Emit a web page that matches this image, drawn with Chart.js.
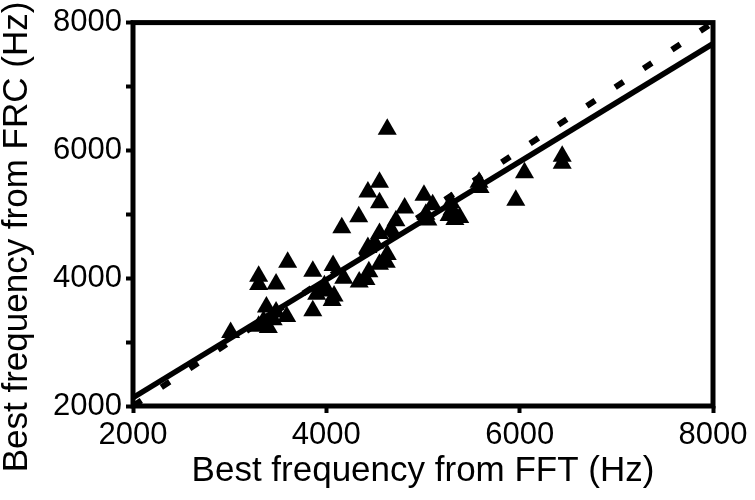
<!DOCTYPE html>
<html>
<head>
<meta charset="utf-8">
<script src="https://cdn.jsdelivr.net/npm/chart.js@4"></script>
<style>
  body { margin: 0; background: #fff; }
  #wrap { width: 755px; height: 500px; }
</style>
</head>
<body>
<div id="wrap"><canvas id="bfChart"></canvas></div>
<script>
// best frequency estimates, one entry per recording site
const fftHz = [
  3010, 3300, 3300, 3480, 3600, 3380, 3480, 3590, 3300, 3400,
  3350, 3450, 3860, 4070, 3860, 3980, 4080, 4060, 4000, 4340,
  4410, 4160, 4335, 4430, 4550, 4550, 4630, 4550, 4430, 4500,
  4630, 4550, 4620, 4440, 4670, 4720, 4810, 5010, 5100, 5030,
  5050, 5290, 5300, 5380, 5270, 5330, 5580, 5590, 6050, 5960,
  6440, 6440, 4180, 3900
];
const frcHz = [
  3150, 4030, 3900, 3910, 4250, 3550, 3470, 3400, 3250, 3230,
  3330, 3350, 4110, 4200, 3490, 3880, 3720, 3650, 3800, 3940,
  3980, 4790, 4960, 5350, 5500, 5180, 6330, 4700, 4480, 4550,
  4370, 4220, 4250, 4100, 4760, 4900, 5100, 5300, 5150, 5000,
  4910, 5180, 5070, 4950, 4980, 4920, 5500, 5420, 5650, 5220,
  5910, 5800, 4000, 3750
];

// regression fit and unity line endpoints
const fitX = [2000, 8000];
const fitY = [2130, 7670];
const unityX = [2000, 8000];
const unityY = [2000, 8000];

const xTickLabels = ["2000", "4000", "6000", "8000"];
const yTickLabels = ["2000", "4000", "6000", "8000"];

const toXY = (xs, ys) => xs.map((x, i) => ({ x: x, y: ys[i] }));

const FONT = "'Liberation Sans', Arial, sans-serif";
const Y_TITLE = "Best frequency from FRC (Hz)";

// thick black frame round the plot area, plus the y title
// (the original's y title sits lower than the axis centre)
const frame = {
  id: "frame",
  afterDatasetsDraw(chart) {
    const a = chart.chartArea;
    const ctx = chart.ctx;
    ctx.save();
    ctx.strokeStyle = "#000";
    ctx.lineWidth = 5;
    ctx.strokeRect(a.left, a.top, a.right - a.left, a.bottom - a.top);
    ctx.restore();
  },
  afterDraw(chart) {
    const ctx = chart.ctx;
    ctx.save();
    ctx.translate(17, 237);
    ctx.rotate(-Math.PI / 2);
    ctx.fillStyle = "#000";
    ctx.font = "35px " + FONT;
    ctx.textAlign = "center";
    ctx.textBaseline = "middle";
    ctx.fillText(Y_TITLE, 0, 0);
    ctx.restore();
  },
};

new Chart(document.getElementById("bfChart"), {
  type: "scatter",
  data: {
    datasets: [
      {
        type: "line",
        data: toXY(fitX, fitY),
        borderColor: "#000",
        borderWidth: 5.5,
        pointRadius: 0,
        fill: false,
      },
      {
        type: "line",
        data: toXY(unityX, unityY),
        borderColor: "#000",
        borderWidth: 6,
        borderDash: [10, 24],
        borderCapStyle: "butt",
        pointRadius: 0,
        fill: false,
      },
      {
        data: toXY(fftHz, frcHz),
        pointStyle: "triangle",
        pointRadius: 11,
        pointHoverRadius: 11,
        backgroundColor: "#000",
        borderColor: "#000",
        borderWidth: 0,
      },
    ],
  },
  options: {
    responsive: true,
    maintainAspectRatio: false,
    animation: false,
    events: [],
    layout: {
      padding: { left: 0, right: 42, top: 19, bottom: 0 },
    },
    plugins: {
      legend: { display: false },
      tooltip: { enabled: false },
    },
    scales: {
      x: {
        type: "linear",
        min: 2000,
        max: 8000,
        border: { display: false },
        grid: {
          drawOnChartArea: false,
          drawTicks: true,
          tickLength: 7,
          tickWidth: 4,
          tickColor: "#000",
        },
        ticks: {
          stepSize: 2000,
          color: "#000",
          padding: 4,
          maxRotation: 0,
          font: { size: 31, family: FONT },
          callback: (v) => (xTickLabels.includes(String(v)) ? String(v) : ""),
        },
        title: {
          display: true,
          text: "Best frequency from FFT (Hz)",
          color: "#000",
          padding: { top: 0, bottom: 8 },
          font: { size: 35, family: FONT },
        },
        afterFit: (s) => { s.height = 94; },
      },
      y: {
        type: "linear",
        min: 2000,
        max: 8000,
        border: { display: false },
        grid: {
          drawOnChartArea: false,
          drawTicks: true,
          tickLength: 7,
          tickWidth: 4,
          tickColor: "#000",
        },
        ticks: {
          stepSize: 1000,
          color: "#000",
          padding: 4,
          font: { size: 31, family: FONT },
          callback: (v) => (yTickLabels.includes(String(v)) ? String(v) : ""),
        },
        title: { display: false },
        afterFit: (s) => { s.width = 133; },
      },
    },
  },
  plugins: [frame],
});
</script>
</body>
</html>
